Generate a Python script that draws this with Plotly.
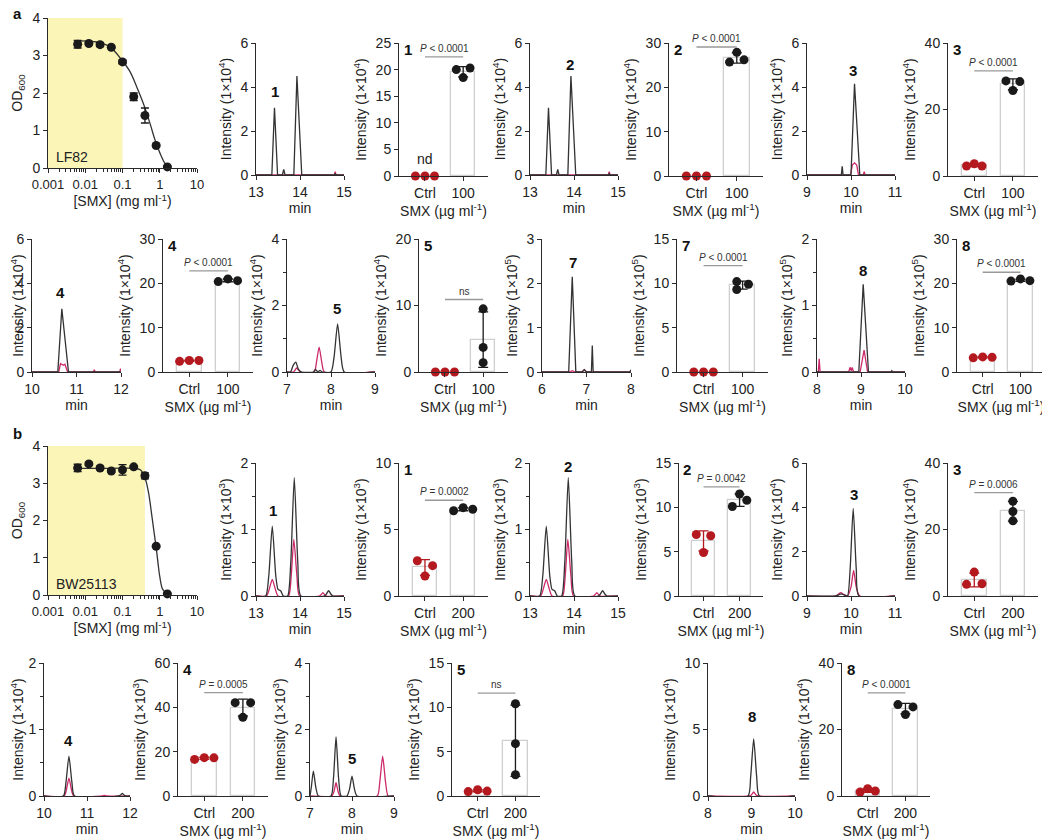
import numpy as np
import plotly.graph_objects as go

# the page body keeps its default 8px margin, so the figure is drawn 8px smaller
# and every box below (measured on the 1050x839 reference) is shifted by OFF
OFF = 8
W, H = 1050 - OFF, 839 - OFF
BLACK = "#1a1a1a"
RED = "#b3191e"
PINK = "#cc2a6b"
AXIS = "#2a2a2a"
YELLOW = "#fbf5b8"
FONT = "Arial, Liberation Sans, sans-serif"

# ---------------- dose response (OD600 vs SMX) ----------------
conc = [0.00625, 0.0125, 0.025, 0.05, 0.1, 0.2, 0.4, 0.8, 1.6]
od_lf82 = [3.30, 3.32, 3.29, 3.22, 2.83, 1.90, 1.40, 0.60, 0.03]
od_lf82_err = [0.10, 0.03, 0.05, 0.03, 0.05, 0.10, 0.20, 0.03, 0.02]
fit_lf82_x = [0.006, 0.02, 0.046, 0.099, 0.159, 0.24, 0.363, 0.547, 0.745, 1.02, 1.38, 1.63]
fit_lf82_y = [3.39, 3.36, 3.23, 2.86, 2.57, 2.17, 1.72, 1.19, 0.75, 0.39, 0.12, 0.04]

od_bw = [3.41, 3.52, 3.41, 3.33, 3.36, 3.44, 3.20, 1.31, 0.03]
od_bw_err = [0.10, 0.04, 0.05, 0.04, 0.14, 0.03, 0.08, 0.03, 0.02]
fit_bw_x = [0.006, 0.05, 0.2, 0.3, 0.4, 0.5, 0.6, 0.7, 0.8, 0.9, 1.0, 1.2, 1.6]
fit_bw_y = [3.40, 3.40, 3.40, 3.36, 3.15, 2.75, 2.20, 1.70, 1.28, 0.85, 0.50, 0.15, 0.03]

# ---------------- chromatograms, LF82 (a) ----------------
a1_black_t = [13.0, 13.36, 13.42, 13.49, 13.60, 13.63, 13.66, 13.86, 13.93, 14.04, 14.78, 14.80, 14.82, 15.0]
a1_black_y = [0, 0, 3.05, 0, 0, 0.25, 0, 0, 4.5, 0, 0, 0.05, 0, 0]
a1_pink_t = [13.0, 13.35, 13.42, 13.50, 13.86, 13.93, 14.0, 14.78, 14.80, 14.82, 15.0]
a1_pink_y = [0, 0, 0.03, 0, 0, 0.03, 0, 0, 0.15, 0, 0]

a3_black_t = [9.0, 9.78, 9.80, 9.82, 10.0, 10.08, 10.2, 11.0]
a3_black_y = [0, 0, 0.4, 0, 0, 4.15, 0, 0]
a3_pink_t = [9.0, 9.99, 10.03, 10.08, 10.13, 10.17, 10.28, 10.30, 10.32, 11.0]
a3_pink_y = [0, 0, 0.45, 0.55, 0.45, 0, 0, 0.15, 0, 0]

a4_black_t = [10.0, 10.58, 10.67, 10.82, 12.0]
a4_black_y = [0, 0, 2.85, 0, 0]
a4_pink_t = [10.0, 10.60, 10.64, 10.70, 10.74, 10.80, 11.38, 11.40, 11.42, 11.97, 11.99, 12.0]
a4_pink_y = [0, 0, 0.38, 0.30, 0.35, 0, 0, 0.1, 0, 0, 0.15, 0.05]

a5_black_t = [7.0, 7.08, 7.14, 7.20, 7.26, 7.33, 7.60, 7.65, 7.70, 7.75, 7.80, 8.0, 8.07, 8.15, 8.23, 8.30, 9.0]
a5_black_y = [0, 0, 0.2, 0.3, 0.08, 0, 0, 0.08, 0, 0.05, 0, 0, 0.45, 1.45, 0.45, 0, 0]
a5_pink_t = [7.0, 7.15, 7.22, 7.30, 7.62, 7.67, 7.73, 7.79, 7.85, 9.0]
a5_pink_y = [0, 0, 0.12, 0, 0, 0.3, 0.75, 0.3, 0, 0]

a7_black_t = [6.0, 6.60, 6.68, 6.76, 6.90, 6.95, 7.0, 7.11, 7.13, 7.15, 7.97, 8.0]
a7_black_y = [0, 0, 2.15, 0, 0, 0.05, 0, 0, 0.6, 0, 0, 0.05]
a7_pink_t = [6.0, 6.62, 6.68, 6.74, 6.90, 6.95, 7.0, 8.0]
a7_pink_y = [0, 0, 0.03, 0, 0, 0.05, 0, 0]

a8_black_t = [8.0, 8.95, 9.05, 9.17, 9.68, 9.70, 9.72, 10.0]
a8_black_y = [0, 0, 1.32, 0, 0, 0.02, 0, 0]
a8_pink_t = [8.0, 8.03, 8.05, 8.07, 8.72, 8.75, 8.78, 8.80, 8.83, 8.98, 9.07, 9.15, 10.0]
a8_pink_y = [0, 0, 0.2, 0, 0, 0.07, 0.02, 0.07, 0, 0, 0.33, 0, 0]

# ---------------- chromatograms, BW25113 (b) ----------------
b1_black_t = [13.0, 13.22, 13.29, 13.37, 13.45, 13.50, 13.56, 13.62, 13.72, 13.79, 13.87, 13.95, 14.02, 14.55, 14.60, 14.65, 14.70, 14.75, 15.0]
b1_black_y = [0, 0, 0.3, 1.05, 0.3, 0.1, 0.08, 0, 0, 0.5, 1.78, 0.5, 0, 0, 0.03, 0.08, 0.03, 0, 0]
b1_pink_t = [13.0, 13.24, 13.30, 13.37, 13.44, 13.50, 13.74, 13.80, 13.86, 13.93, 13.99, 14.44, 14.48, 14.52, 14.56, 14.60, 15.0]
b1_pink_y = [0, 0, 0.1, 0.25, 0.1, 0, 0, 0.3, 0.85, 0.3, 0, 0, 0.02, 0.05, 0.02, 0, 0]

b3_black_t = [9.0, 9.65, 9.72, 9.78, 9.84, 9.92, 9.98, 10.05, 10.12, 10.18, 11.0]
b3_black_y = [0, 0, 0.05, 0.1, 0.05, 0, 1.2, 3.95, 1.2, 0, 0]
b3_pink_t = [9.0, 9.65, 9.71, 9.77, 9.83, 9.92, 10.0, 10.06, 10.12, 10.20, 11.0]
b3_pink_y = [0, 0, 0.08, 0.15, 0.08, 0, 0.4, 1.15, 0.4, 0, 0]

b4_black_t = [10.0, 10.45, 10.51, 10.58, 10.65, 10.71, 11.74, 11.78, 11.82, 11.86, 11.90, 12.0]
b4_black_y = [0, 0, 0.2, 0.6, 0.2, 0, 0, 0.015, 0.04, 0.015, 0, 0]
b4_pink_t = [10.0, 10.47, 10.52, 10.58, 10.64, 10.69, 11.35, 11.40, 11.45, 12.0]
b4_pink_y = [0, 0, 0.09, 0.27, 0.09, 0, 0, 0.01, 0, 0]

b5_black_t = [7.0, 7.03, 7.08, 7.14, 7.20, 7.50, 7.56, 7.62, 7.68, 7.74, 7.88, 7.94, 8.0, 8.06, 8.12, 9.0]
b5_black_y = [0, 0.25, 0.75, 0.25, 0, 0, 0.55, 1.78, 0.55, 0, 0, 0.2, 0.6, 0.2, 0, 0]
b5_pink_t = [7.0, 7.52, 7.57, 7.62, 7.67, 7.72, 8.60, 8.66, 8.73, 8.80, 8.86, 9.0]
b5_pink_y = [0, 0, 0.13, 0.4, 0.13, 0, 0, 0.4, 1.2, 0.4, 0, 0]

b8_black_t = [8.0, 8.92, 8.98, 9.05, 9.12, 9.18, 10.0]
b8_black_y = [0, 0, 1.4, 4.3, 1.4, 0, 0]
b8_pink_t = [8.0, 8.95, 9.0, 9.05, 9.10, 9.15, 10.0]
b8_pink_y = [0, 0, 0.1, 0.3, 0.1, 0, 0]

# ---------------- bar charts (replicates) ----------------
a_bar1_ctrl, a_bar1_smx = [0, 0, 0], [20.0, 18.5, 20.3]
a_bar2_ctrl, a_bar2_smx = [0, 0, 0], [25.7, 27.9, 26.2]
a_bar3_ctrl, a_bar3_smx = [3.0, 3.7, 3.0], [28.6, 25.7, 28.4]
a_bar4_ctrl, a_bar4_smx = [2.4, 2.6, 2.6], [20.4, 21.0, 20.6]
a_bar5_ctrl, a_bar5_smx = [0, 0, 0], [9.5, 3.7, 1.4]
a_bar7_ctrl, a_bar7_smx = [0, 0, 0], [10.2, 9.3, 9.9]
a_bar8_ctrl, a_bar8_smx = [3.2, 3.4, 3.3], [20.5, 21.0, 20.6]

b_bar1_ctrl, b_bar1_smx = [2.65, 1.5, 2.28], [6.41, 6.64, 6.52]
b_bar2_ctrl, b_bar2_smx = [6.93, 4.9, 6.8], [10.1, 11.5, 10.8]
b_bar3_ctrl, b_bar3_smx = [3.5, 7.2, 3.7], [28.5, 25.4, 22.6]
b_bar4_ctrl, b_bar4_smx = [16.5, 17.3, 17.2], [42.1, 35.5, 42.1]
b_bar5_ctrl, b_bar5_smx = [0.5, 0.7, 0.55], [10.4, 5.9, 2.4]
b_bar8_ctrl, b_bar8_smx = [1.2, 2.2, 1.5], [27.5, 24.5, 26.8]

fig = go.Figure()
n_axes = 0


def new_axes(box, xcfg, ycfg):
    global n_axes
    n_axes += 1
    s = "" if n_axes == 1 else str(n_axes)
    x0, x1, y0, y1 = [v - OFF for v in box]
    base = dict(showline=True, linecolor=AXIS, linewidth=1, ticks="outside", ticklen=4,
                tickwidth=1, tickcolor=AXIS, showgrid=False, zeroline=False, automargin=False,
                tickfont=dict(size=14, color="#222"), title_font=dict(size=14, color="#222"))
    fig.update_layout(**{
        "xaxis" + s: dict(base, domain=[x0 / W, x1 / W], anchor="y" + s, **xcfg),
        "yaxis" + s: dict(base, domain=[1 - y1 / H, 1 - y0 / H], anchor="x" + s, **ycfg),
    })
    return "x" + s, "y" + s


def dose_panel(box, od, err, fx, fy, shade_end, strain):
    minor = [m * 10.0 ** e for e in range(-3, 1) for m in range(2, 10)]
    xa, ya = new_axes(
        box,
        dict(type="log", range=[-3, 1], tickvals=[0.001, 0.01, 0.1, 1, 10],
             ticktext=["0.001", "0.01", "0.1", "1", "10"], tickfont=dict(size=13, color="#222"),
             minor=dict(tickvals=minor, ticks="outside", ticklen=3, tickcolor=AXIS),
             title=dict(text="[SMX] (mg ml<sup>-1</sup>)", standoff=2)),
        dict(range=[0, 4], dtick=1, title=dict(text="OD<sub>600</sub>", standoff=6)),
    )
    fig.add_scatter(x=[0.001, shade_end, shade_end, 0.001], y=[0, 0, 4, 4], xaxis=xa, yaxis=ya,
                    fill="toself", fillcolor=YELLOW, mode="lines", line=dict(width=0),
                    showlegend=False, hoverinfo="skip")
    fig.add_scatter(x=fx, y=fy, xaxis=xa, yaxis=ya, mode="lines",
                    line=dict(color="#333", width=1.3, shape="spline"), showlegend=False)
    fig.add_scatter(x=conc, y=od, xaxis=xa, yaxis=ya, mode="markers",
                    marker=dict(color=BLACK, size=9),
                    error_y=dict(type="data", array=err, color=BLACK, thickness=1.3, width=4),
                    showlegend=False, cliponaxis=False)
    fig.add_annotation(xref=xa + " domain", yref=ya + " domain", x=0.04, y=0.01,
                       xanchor="left", yanchor="bottom", text=strain, showarrow=False,
                       font=dict(size=14, color="#222"))


def chrom_panel(box, xr, yr, ydtick, yminor, unit, black, pink, label, lx, ly, smooth):
    ycfg = dict(range=yr, dtick=ydtick, tick0=0,
                title=dict(text="Intensity (1×10<sup>%d</sup>)" % unit, standoff=5))
    if yminor:
        ycfg["minor"] = dict(dtick=yminor, ticks="outside", ticklen=3, tickcolor=AXIS)
    xa, ya = new_axes(box, dict(range=xr, dtick=1, tick0=xr[0],
                                title=dict(text="min", standoff=2)), ycfg)
    shape = "spline" if smooth else "linear"
    fig.add_scatter(x=pink[0], y=pink[1], xaxis=xa, yaxis=ya, mode="lines",
                    line=dict(color=PINK, width=1.3, shape=shape, smoothing=0.6),
                    showlegend=False, cliponaxis=False)
    fig.add_scatter(x=black[0], y=black[1], xaxis=xa, yaxis=ya, mode="lines",
                    line=dict(color="#333", width=1.3, shape=shape, smoothing=0.6),
                    showlegend=False, cliponaxis=False)
    fig.add_annotation(x=lx, y=ly, xref=xa, yref=ya, text="<b>%s</b>" % label,
                       showarrow=False, font=dict(size=15, color="#111"))


def bar_panel(box, yr, ydtick, unit, dose, ctrl, smx, ptext, py, label,
              ctrl_dx=(-0.22, 0, 0.22), smx_dx=(-0.22, 0, 0.22), nd=False):
    xa, ya = new_axes(
        box,
        dict(range=[-0.68, 1.65], tickvals=[0, 1], ticktext=["Ctrl", dose],
             title=dict(text="SMX (µg ml<sup>-1</sup>)", standoff=2)),
        dict(range=yr, dtick=ydtick, tick0=0,
             title=dict(text="Intensity (1×10<sup>%d</sup>)" % unit, standoff=5)),
    )
    means = [np.mean(ctrl), np.mean(smx)]
    sds = [np.std(ctrl, ddof=1), np.std(smx, ddof=1)]
    fig.add_bar(x=[0, 1], y=means, xaxis=xa, yaxis=ya, width=0.64,
                marker=dict(color="white", line=dict(color="#cfcfcf", width=1.3)),
                showlegend=False)
    for i, (vals, dx, col) in enumerate([(ctrl, ctrl_dx, RED), (smx, smx_dx, BLACK)]):
        fig.add_scatter(x=[i + d for d in dx], y=vals, xaxis=xa, yaxis=ya, mode="markers",
                        marker=dict(color=col, size=9), showlegend=False, cliponaxis=False)
        if sds[i] > 0:
            fig.add_scatter(x=[i], y=[means[i]], xaxis=xa, yaxis=ya, mode="markers",
                            marker=dict(opacity=0, size=1),
                            error_y=dict(type="data", array=[sds[i]], color=col,
                                         thickness=1.3, width=5),
                            showlegend=False, cliponaxis=False)
    fig.add_scatter(x=[0, 1], y=[py, py], xaxis=xa, yaxis=ya, mode="lines",
                    line=dict(color="#999", width=1.3), showlegend=False)
    fig.add_annotation(x=0.5, y=py, xref=xa, yref=ya, yanchor="bottom", yshift=1,
                       text=ptext, showarrow=False, font=dict(size=10, color="#333"))
    fig.add_annotation(xref=xa + " domain", yref=ya + " domain", x=0.1, y=0.95,
                       xanchor="center", yanchor="middle",
                       text="<b>%s</b>" % label, showarrow=False,
                       font=dict(size=15, color="#111"))
    if nd:
        fig.add_annotation(x=0, y=0, xref=xa, yref=ya, yanchor="bottom", yshift=7,
                           text="nd", showarrow=False, font=dict(size=14, color="#222"))


P4 = "<i>P</i> < 0.0001"
COL = (0, 0, 0)

# ---- row 1 (a)
dose_panel((48, 197, 18, 168), od_lf82, od_lf82_err, fit_lf82_x, fit_lf82_y, 0.1, "LF82")
chrom_panel((256, 344, 43, 175), [13, 15], [0, 6], 2, None, 4,
            (a1_black_t, a1_black_y), (a1_pink_t, a1_pink_y), "1", 13.43, 3.8, False)
bar_panel((399, 488, 43, 176), [0, 25], 5, 4, "100", a_bar1_ctrl, a_bar1_smx, P4, 22.4, "1",
          ctrl_dx=(-0.25, 0, 0.25), smx_dx=(-0.18, 0, 0.18), nd=True)
chrom_panel((530, 618, 43, 175), [13, 15], [0, 6], 2, None, 4,
            (a1_black_t, a1_black_y), (a1_pink_t, a1_pink_y), "2", 13.91, 5.0, False)
bar_panel((669, 763, 43, 176), [0, 30], 10, 4, "100", a_bar2_ctrl, a_bar2_smx, P4, 29.1, "2",
          ctrl_dx=(-0.25, 0, 0.25), smx_dx=(-0.18, 0, 0.18))
chrom_panel((807, 895, 43, 175), [9, 11], [0, 6], 2, None, 4,
            (a3_black_t, a3_black_y), (a3_pink_t, a3_pink_y), "3", 10.05, 4.77, False)
bar_panel((948, 1038, 43, 176), [0, 40], 20, 4, "100", a_bar3_ctrl, a_bar3_smx, P4, 31.6, "3",
          ctrl_dx=(-0.2, 0, 0.2), smx_dx=(-0.18, 0, 0.18))

# ---- row 2 (a)
chrom_panel((32, 121, 239, 372), [10, 12], [0, 6], 2, None, 4,
            (a4_black_t, a4_black_y), (a4_pink_t, a4_pink_y), "4", 10.65, 3.6, False)
bar_panel((163, 253, 239, 372), [0, 30], 10, 4, "100", a_bar4_ctrl, a_bar4_smx, P4, 22.8, "4",
          ctrl_dx=(-0.25, 0, 0.25), smx_dx=(-0.25, 0, 0.25))
chrom_panel((287, 375, 239, 372), [7, 9], [0, 4], 2, 1, 4,
            (a5_black_t, a5_black_y), (a5_pink_t, a5_pink_y), "5", 8.14, 1.9, True)
bar_panel((419, 508, 239, 372), [0, 20], 10, 4, "100", a_bar5_ctrl, a_bar5_smx, "ns", 10.9, "5",
          ctrl_dx=(-0.25, 0, 0.25), smx_dx=COL)
chrom_panel((542, 631, 239, 372), [6, 8], [0, 3], 1, None, 5,
            (a7_black_t, a7_black_y), (a7_pink_t, a7_pink_y), "7", 6.7, 2.48, False)
bar_panel((677, 768, 239, 372), [0, 15], 5, 5, "100", a_bar7_ctrl, a_bar7_smx, P4, 12.0, "7",
          ctrl_dx=(-0.25, 0, 0.25), smx_dx=(-0.15, -0.15, 0.15))
chrom_panel((817, 905, 239, 372), [8, 10], [0, 2], 1, 0.5, 5,
            (a8_black_t, a8_black_y), (a8_pink_t, a8_pink_y), "8", 9.05, 1.53, False)
bar_panel((957, 1045, 239, 372), [0, 30], 10, 5, "100", a_bar8_ctrl, a_bar8_smx, P4, 22.5, "8",
          ctrl_dx=(-0.25, 0, 0.25), smx_dx=(-0.25, 0, 0.25))

# ---- row 3 (b)
dose_panel((48, 197, 446, 595), od_bw, od_bw_err, fit_bw_x, fit_bw_y, 0.4, "BW25113")
chrom_panel((256, 344, 463, 596), [13, 15], [0, 2], 1, 0.5, 3,
            (b1_black_t, b1_black_y), (b1_pink_t, b1_pink_y), "1", 13.39, 1.29, True)
bar_panel((399, 488, 463, 596), [0, 10], 5, 3, "200", b_bar1_ctrl, b_bar1_smx,
          "<i>P</i> = 0.0002", 7.2, "1", ctrl_dx=(-0.2, 0, 0.2), smx_dx=(-0.25, 0, 0.25))
chrom_panel((530, 618, 463, 596), [13, 15], [0, 2], 1, 0.5, 3,
            (b1_black_t, b1_black_y), (b1_pink_t, b1_pink_y), "2", 13.86, 1.95, True)
bar_panel((679, 763, 463, 596), [0, 15], 5, 3, "200", b_bar2_ctrl, b_bar2_smx,
          "<i>P</i> = 0.0042", 12.3, "2", ctrl_dx=(-0.2, 0, 0.2), smx_dx=(-0.2, 0, 0.2))
chrom_panel((807, 895, 463, 596), [9, 11], [0, 6], 2, None, 4,
            (b3_black_t, b3_black_y), (b3_pink_t, b3_pink_y), "3", 10.07, 4.56, True)
bar_panel((948, 1038, 463, 596), [0, 40], 20, 4, "200", b_bar3_ctrl, b_bar3_smx,
          "<i>P</i> = 0.0006", 31.1, "3", ctrl_dx=(-0.2, 0, 0.2), smx_dx=COL)

# ---- row 4 (b)
chrom_panel((44, 130, 663, 796), [10, 12], [0, 2], 1, 0.5, 4,
            (b4_black_t, b4_black_y), (b4_pink_t, b4_pink_y), "4", 10.58, 0.83, True)
bar_panel((178, 268, 663, 796), [0, 60], 20, 3, "200", b_bar4_ctrl, b_bar4_smx,
          "<i>P</i> = 0.0005", 46.6, "4", ctrl_dx=(-0.25, 0, 0.25), smx_dx=(-0.2, 0, 0.2))
chrom_panel((310, 394, 663, 796), [7, 9], [0, 4], 2, 1, 3,
            (b5_black_t, b5_black_y), (b5_pink_t, b5_pink_y), "5", 8.0, 1.14, True)
bar_panel((452, 540, 663, 796), [0, 15], 5, 3, "200", b_bar5_ctrl, b_bar5_smx, "ns", 11.6, "5",
          ctrl_dx=(-0.25, 0, 0.25), smx_dx=COL)
chrom_panel((708, 795, 663, 796), [8, 10], [0, 10], 5, None, 4,
            (b8_black_t, b8_black_y), (b8_pink_t, b8_pink_y), "8", 9.0, 6.0, True)
bar_panel((842, 930, 663, 796), [0, 40], 20, 4, "200", b_bar8_ctrl, b_bar8_smx, P4, 31.0, "8",
          ctrl_dx=(-0.2, 0, 0.2), smx_dx=(-0.2, 0, 0.2))

for letter, y in [("a", 13), ("b", 433)]:
    fig.add_annotation(xref="paper", yref="paper", x=3 / W, y=1 - (y - OFF) / H, xanchor="left",
                       yanchor="middle", text="<b>%s</b>" % letter, showarrow=False,
                       font=dict(size=15, color="#111"))

fig.update_layout(
    width=W,
    height=H,
    margin=dict(l=0, r=0, t=0, b=0, pad=0, autoexpand=False),
    paper_bgcolor="white",
    plot_bgcolor="white",
    font=dict(family=FONT, size=14, color="#222"),
    showlegend=False,
    bargap=0,
)

fig.write_html("out.html")
